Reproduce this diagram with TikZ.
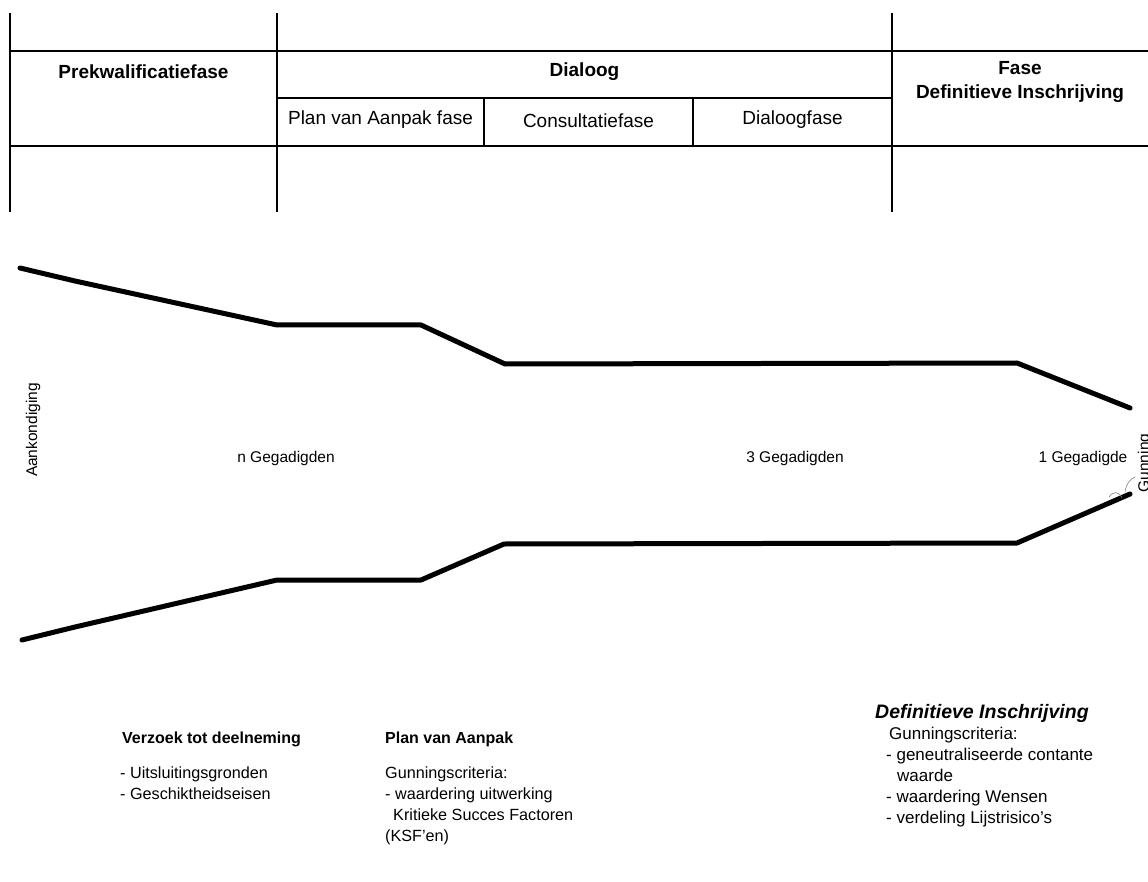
\documentclass[tikz,border=0pt]{standalone}
\usepackage{fontspec}
\setmainfont{Liberation Sans}
\begin{document}
\begin{tikzpicture}[x=1pt,y=-1pt,
  grid/.style={line width=1.3pt},
  funnel/.style={line width=5pt, line cap=round, line join=round},
  tablebold/.style={font=\fontsize{19}{24}\selectfont\bfseries, align=center, inner sep=0},
  tablecell/.style={font=\fontsize{19}{24}\selectfont, inner sep=0},
  midlabel/.style={font=\fontsize{15.5}{18}\selectfont, inner sep=0},
  hdr/.style={font=\fontsize{16}{21}\selectfont\bfseries, anchor=base west, inner sep=0},
  body/.style={font=\fontsize{16.2}{21}\selectfont, anchor=north west, inner sep=0, align=left},
  bodyr/.style={font=\fontsize{17}{21}\selectfont, anchor=north west, inner sep=0, align=left},
  squiggle/.style={line width=0.6pt, gray}
]
\useasboundingbox[fill=white] (0,0) rectangle (1148,882);

% table grid
\draw[grid] (10,13) -- (10,212);
\draw[grid] (277,13) -- (277,212);
\draw[grid] (892,13) -- (892,212);
\draw[grid] (10,51) -- (1148,51);
\draw[grid] (10,146) -- (1148,146);
\draw[grid] (277,98) -- (892,98);
\draw[grid] (484,98) -- (484,146);
\draw[grid] (693,98) -- (693,146);

% table texts
\node[tablebold] (prek) at (143.5,72) {Prekwalificatiefase};
\node[tablebold] (dial) at (584.5,72) {Dialoog};
\node[tablebold] (fase) at (1020,82) {Fase\\Definitieve Inschrijving};
\node[tablecell] (pva) at (380.5,120) {Plan van Aanpak fase};
\node[tablecell] (cons) at (588.5,121) {Consultatiefase};
\node[tablecell] (dlf) at (792.5,120) {Dialoogfase};

% funnel
\draw[funnel] (20,268) -- (75,281) -- (277,325) -- (421,325) -- (505,364) -- (1017,363) -- (1130,408);
\draw[funnel] (22,640) -- (75,627) -- (277,580) -- (421,580) -- (504,544) -- (1017,543) -- (1130,494);

% squiggles near the end
\draw[squiggle] (1109,497) .. controls (1113,491) and (1119,491) .. (1122,498);
\draw[squiggle] (1125,492) .. controls (1126,484) and (1130,479) .. (1135,477);

% middle labels
\node[midlabel, rotate=90] (aank) at (33,430) {Aankondiging};
\node[midlabel] (ngeg) at (286,458) {n Gegadigden};
\node[midlabel] (geg3) at (795,458) {3 Gegadigden};
\node[midlabel] (geg1) at (1083,458) {1 Gegadigde};
\node[midlabel, rotate=90] (gunn) at (1145,463) {Gunning};

% bottom texts
\node[hdr] (verz) at (122,743) {Verzoek tot deelneming};
\node[body] (verzb) at (120,767) {- Uitsluitingsgronden\\- Geschiktheidseisen};

\node[hdr] (pvah) at (385,743) {Plan van Aanpak};
\node[body] (pvab) at (385,767) {Gunningscriteria:\\- waardering uitwerking\\\hspace*{8pt}Kritieke Succes Factoren\\(KSF’en)};

\node[hdr, font=\fontsize{19.5}{23}\selectfont\bfseries\itshape] (defh) at (875,718) {Definitieve Inschrijving};
\node[bodyr] (defb) at (886,726.5) {\hspace*{3pt}Gunningscriteria:\\- geneutraliseerde contante\\\hspace*{11pt}waarde\\- waardering Wensen\\- verdeling Lijstrisico’s};
\end{tikzpicture}
\end{document}
